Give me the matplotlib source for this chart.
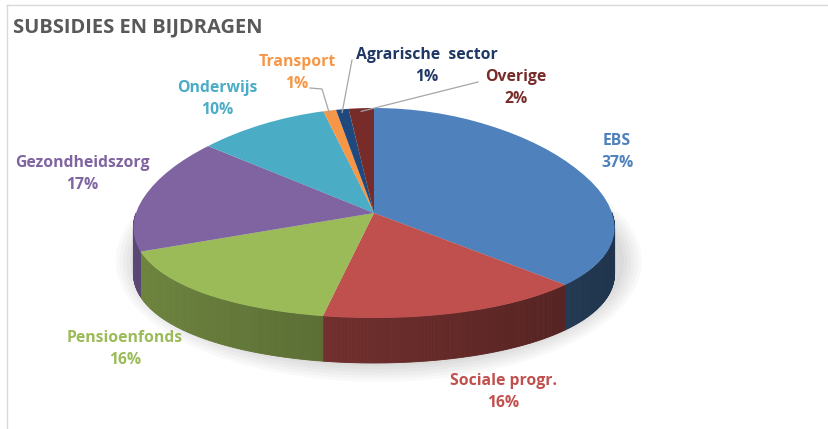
import numpy as np
import matplotlib.pyplot as plt
from matplotlib.patches import Polygon, Ellipse
from matplotlib.lines import Line2D
from matplotlib.colors import to_rgb
from matplotlib.transforms import Transform

labels = ['EBS', 'Sociale progr.', 'Pensioenfonds', 'Gezondheidszorg',
          'Onderwijs', 'Transport', 'Agrarische  sector', 'Overige']
values = [37, 16, 16, 17, 10, 1, 1, 2]
colors = ['#4F81BD', '#C0504D', '#9BBB59', '#8064A2',
          '#4BACC6', '#F79646', '#1F497D', '#772C2A']
label_colors = ['#4F81BD', '#C0504D', '#9BBB59', '#8064A2',
                '#4BACC6', '#F79646', '#1F3864', '#772C2A']

plt.rcParams['font.family'] = ['Open Sans', 'DejaVu Sans']

W, H = 829, 429
fig = plt.figure(figsize=(W / 100, H / 100), dpi=100)
ax = fig.add_axes([0, 0, 1, 1])

# pie geometry in pixels (top face ellipse + thickness)
cx, cy = 374, 213
rx, ry = 238, 105
depth = 45 / ry


def px(x, y):
    # pixel position -> data coords (unit circle = top face)
    return (x - cx) / rx, (cy - y) / ry


class Tilt(Transform):
    # fake perspective: back of the pie narrower than the front
    input_dims = output_dims = 2

    def __init__(self, k):
        super().__init__()
        self.k = k

    def transform_non_affine(self, values):
        v = np.asarray(values, float)
        return np.column_stack([v[:, 0] * (1 - self.k * v[:, 1]), v[:, 1]])


tilt = Tilt(0.15)
tr = tilt + ax.transData

# soft shadow under the pie
for i in range(6):
    ax.add_patch(Ellipse((0.02, -depth - 0.03), 2.06 + 0.03 * i, 2.0 + 0.06 * i,
                         color='#000000', alpha=0.025, lw=0, zorder=0))

wedges, _ = ax.pie(values, colors=colors, startangle=90, counterclock=False,
                   radius=1, center=(0, 0), wedgeprops=dict(linewidth=0))

# side of the slab (only the front half is visible)
for w, c in zip(wedges, colors):
    w.set_zorder(3)
    w.set_transform(tr)
    base = np.array(to_rgb(c))
    t = np.radians(np.linspace(w.theta1, w.theta2, int(w.theta2 - w.theta1) * 2 + 2))
    rim = tilt.transform(np.column_stack([np.cos(t), np.sin(t)]))
    for j in range(len(t) - 1):
        m = (t[j] + t[j + 1]) / 2
        if np.sin(m) >= 0:
            continue
        f = 0.72 - 0.32 * (1 + np.cos(m)) / 2
        col = base * f
        (x0, y0), (x1, y1) = rim[j], rim[j + 1]
        quad = [(x0, y0), (x1, y1), (x1, y1 - depth), (x0, y0 - depth)]
        ax.add_patch(Polygon(quad, closed=True, facecolor=col, edgecolor=col,
                             lw=0.6, zorder=2))

ax.set_aspect('auto')
ax.set_xlim(px(0, 0)[0], px(W, 0)[0])
ax.set_ylim(px(0, H)[1], px(0, 0)[1])
ax.axis('off')

# data labels
label_pos = [(617, 152), (503, 392), (125, 349), (82, 174),
             (217, 99), (297, 73), (427, 66), (516, 88)]
for lab, v, col, (x, y) in zip(labels, values, label_colors, label_pos):
    ax.text(*px(x, y), f'{lab}\n{v}%', ha='center', va='center',
            fontsize=11.3, fontweight='bold', color=col, linespacing=1.45,
            zorder=5)

# leader lines for the small slices
leader_start = {5: [(310, 88), (322, 89)], 6: [(352, 60)], 7: [(478, 82)]}
for i, pts in leader_start.items():
    w = wedges[i]
    mid = np.radians((w.theta1 + w.theta2) / 2)
    end = tilt.transform(np.array([[np.cos(mid), np.sin(mid) * 0.97]]))[0]
    xs = [px(x, y)[0] for x, y in pts] + [end[0]]
    ys = [px(x, y)[1] for x, y in pts] + [end[1]]
    ax.plot(xs, ys, color='#A6A6A6', lw=0.9, zorder=4)

# title and chart frame
fig.text(13 / W, 1 - 27 / H, 'SUBSIDIES EN BIJDRAGEN', fontsize=14.5,
         fontweight='bold', color='#595959', va='center', ha='left')
fig.add_artist(Line2D([7 / W, 7 / W], [0, 1 - 5 / H], transform=fig.transFigure,
                      color='#D9D9D9', lw=1))
fig.add_artist(Line2D([7 / W, 1], [1 - 5 / H, 1 - 5 / H], transform=fig.transFigure,
                      color='#D9D9D9', lw=1))

fig.savefig('out.png', dpi=100)
